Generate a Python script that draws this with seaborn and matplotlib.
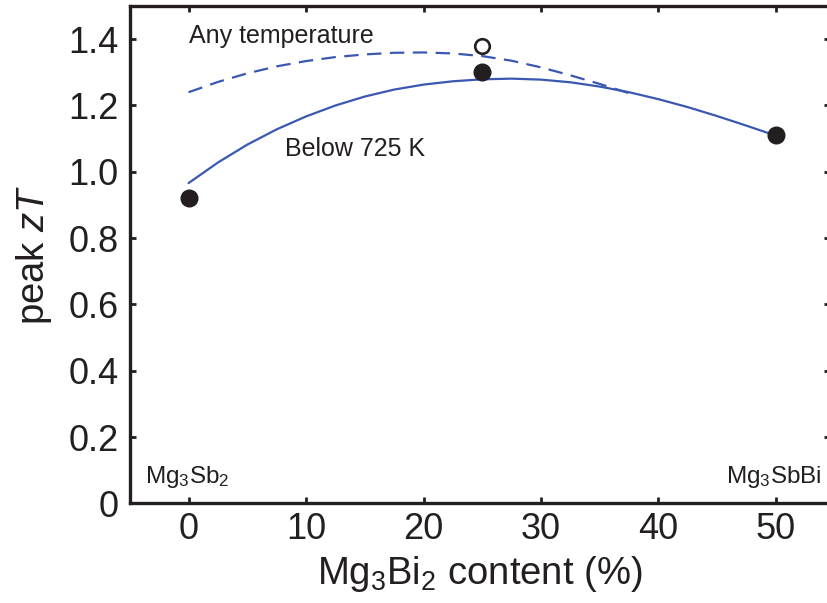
import matplotlib
matplotlib.use("Agg")
import matplotlib.pyplot as plt
import seaborn as sns

# ---- data ----
fill_x = [0, 25, 50]
fill_y = [0.92, 1.30, 1.11]
open_x = [25]
open_y = [1.38]

below_x = [0, 2.5, 5, 7.5, 10, 12.5, 15, 17.5, 20, 22.5, 25, 27.5, 30,
           32.5, 35, 37.5, 40, 42.5, 45, 47.5, 50]
below_y = [0.966, 1.028, 1.082, 1.128, 1.167, 1.200, 1.227, 1.248, 1.263,
           1.273, 1.279, 1.281, 1.278, 1.270, 1.257, 1.240, 1.219, 1.195,
           1.168, 1.139, 1.109]

any_x = [0, 2.5, 5, 7.5, 10, 12.5, 15, 17.5, 20, 22.5, 25, 27.5, 30,
         32.5, 35, 37.5]
any_y = [1.240, 1.271, 1.297, 1.318, 1.334, 1.346, 1.354, 1.359, 1.360,
         1.357, 1.349, 1.335, 1.315, 1.291, 1.265, 1.237]

xticks = [0, 10, 20, 30, 40, 50]
yticks = [0, 0.2, 0.4, 0.6, 0.8, 1.0, 1.2, 1.4]
ytick_labels = ["0", "0.2", "0.4", "0.6", "0.8", "1.0", "1.2", "1.4"]

sns.set_theme(style="ticks")
plt.rcParams["font.family"] = ["Liberation Sans", "DejaVu Sans"]
plt.rcParams["mathtext.fontset"] = "custom"
plt.rcParams["mathtext.rm"] = "Liberation Sans"
plt.rcParams["mathtext.it"] = "Liberation Sans:italic"

ink = "#231f20"
blue = "#3a58b2"

fig = plt.figure(figsize=(8.27, 6.03), dpi=100)
ax = fig.add_axes([0.157, 0.1653, 0.8466, 0.8247])

sns.lineplot(x=any_x, y=any_y, ax=ax, color=blue, linewidth=1.6,
             linestyle=(0, (6.5, 3.8)), sort=False, zorder=2,
             solid_joinstyle="round", dash_joinstyle="round")
sns.lineplot(x=below_x, y=below_y, ax=ax, color=blue, linewidth=1.6,
             sort=False, zorder=2, solid_joinstyle="round")
sns.scatterplot(x=fill_x, y=fill_y, ax=ax, s=169, color=ink,
                edgecolor=ink, linewidth=0, zorder=3)
sns.scatterplot(x=open_x, y=open_y, ax=ax, s=110, facecolor="white",
                edgecolor=ink, linewidth=1.9, zorder=3)

ax.set_xlim(-5, 54.6)
ax.set_ylim(0, 1.5)
ax.set_xticks(xticks)
ax.set_yticks(yticks)
ax.set_yticklabels(ytick_labels)

for sp in ax.spines.values():
    sp.set_visible(True)
    sp.set_linewidth(2.4)
    sp.set_color(ink)

ax.tick_params(axis="both", which="major", direction="in", length=4,
               width=2.0, color=ink, labelsize=26, labelcolor=ink,
               top=True, right=True)
ax.tick_params(axis="x", pad=6)
ax.tick_params(axis="y", pad=8)

ax.set_xlabel(r"Mg$_3$Bi$_2$ content (%)", fontsize=27.5, color=ink, labelpad=5)
ax.set_ylabel(r"peak $zT$", fontsize=27.5, color=ink, labelpad=10)

ax.text(0.0, 1.389, "Any temperature", fontsize=18, color=ink,
        ha="left", va="baseline")
ax.text(8.2, 1.049, "Below 725 K", fontsize=18, color=ink,
        ha="left", va="baseline")
ax.text(-3.7, 0.061, r"Mg$_3$Sb$_2$", fontsize=17.5, color=ink,
        ha="left", va="baseline")
ax.text(53.85, 0.061, r"Mg$_3$SbBi", fontsize=17.5, color=ink,
        ha="right", va="baseline")

fig.savefig("out.png", dpi=100)
